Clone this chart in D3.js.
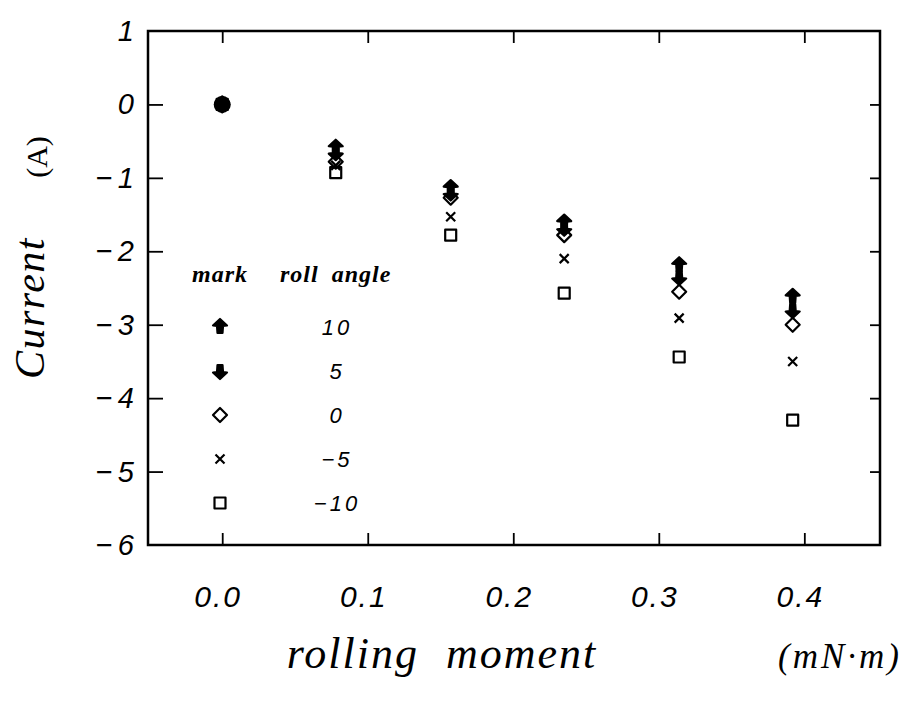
<!DOCTYPE html>
<html>
<head>
<meta charset="utf-8">
<script src="https://cdn.jsdelivr.net/npm/d3@7"></script>
<style>
  body { margin: 0; background: #fff; }
</style>
</head>
<body>
<div id="graph"></div>
<script>
// data
let moment = [0, 0.078, 0.157, 0.235, 0.314, 0.392];
let roll10 = [0, -0.59, -1.14, -1.61, -2.19, -2.62];
let roll5 = [0, -0.65, -1.2, -1.68, -2.35, -2.8];
let roll0 = [0, -0.78, -1.27, -1.78, -2.55, -3.0];
let rollM5 = [0, -0.83, -1.53, -2.1, -2.91, -3.5];
let rollM10 = [0, -0.93, -1.78, -2.57, -3.44, -4.3];
let originX = [0];
let originY = [0];

let angleNames = ["10", "5", "0", "\u22125", "\u221210"];
let xTicks = [0, 0.1, 0.2, 0.3, 0.4];
let yTicks = [1, 0, -1, -2, -3, -4, -5, -6];

let w = 912;
let h = 706;
let plotL = 148, plotR = 880, plotT = 31, plotB = 545;

let svg = d3.select("#graph").append("svg")
              .attr("width", w)
              .attr("height", h);

let x = d3.scaleLinear().domain([-0.051, 0.452]).range([plotL, plotR]);
let y = d3.scaleLinear().domain([-6, 1]).range([plotB, plotT]);

// marker shapes, one per roll angle
let upArrow = "M0,-8 L7,-1.5 L3,-1 L2.5,6 L-2.5,6 L-3,-1 L-7,-1.5 Z";
let downArrow = "M0,8 L7,1.5 L3,1 L2.5,-6 L-2.5,-6 L-3,1 L-7,1.5 Z";
let diamond = "M0,-7 L7,0 L0,7 L-7,0 Z";
let cross = "M-4.5,-4.5 L4.5,4.5 M-4.5,4.5 L4.5,-4.5";
let square = "M-5.5,-5.5 L5.5,-5.5 L5.5,5.5 L-5.5,5.5 Z";

let series = [
  {vals: roll10, d: upArrow, fill: "#000"},
  {vals: roll5, d: downArrow, fill: "#000"},
  {vals: roll0, d: diamond, fill: "none"},
  {vals: rollM5, d: cross, fill: "none"},
  {vals: rollM10, d: square, fill: "none"}
];

// frame
svg.append("rect")
    .attr("x", plotL).attr("y", plotT)
    .attr("width", plotR - plotL).attr("height", plotB - plotT)
    .attr("fill", "none").attr("stroke", "#000").attr("stroke-width", 2.5);

// ticks, all pointing inward
let xAxisB = d3.axisBottom(x).tickValues(xTicks).tickSize(-12).tickFormat("");
let xAxisT = d3.axisTop(x).tickValues(xTicks).tickSize(-12).tickFormat("");
let yAxisL = d3.axisLeft(y).tickValues(yTicks.slice(1, -1)).tickSize(-15).tickFormat("");
let yAxisR = d3.axisRight(y).tickValues(yTicks.slice(1, -1)).tickSize(-10).tickFormat("");

function cleanAxis(g) {
  g.select(".domain").remove();
  g.selectAll(".tick line").attr("stroke", "#000").attr("stroke-width", 1.8);
}

svg.append("g").attr("transform", "translate(0," + plotB + ")").call(xAxisB).call(cleanAxis);
svg.append("g").attr("transform", "translate(0," + plotT + ")").call(xAxisT).call(cleanAxis);
svg.append("g").attr("transform", "translate(" + plotL + ",0)").call(yAxisL).call(cleanAxis);
svg.append("g").attr("transform", "translate(" + plotR + ",0)").call(yAxisR).call(cleanAxis);

// tick labels
svg.selectAll(".xlab").data(xTicks).enter()
    .append("text")
      .attr("x", d => x(d) - 4)
      .attr("y", 607)
      .attr("text-anchor", "middle")
      .attr("font-family", "Liberation Sans")
      .attr("font-style", "italic")
      .attr("font-size", 30)
      .attr("letter-spacing", 2)
      .text(d => d.toFixed(1));

svg.selectAll(".ylab").data(yTicks).enter()
    .append("text")
      .attr("x", 134)
      .attr("y", d => y(d) + 10)
      .attr("text-anchor", "end")
      .attr("font-family", "Liberation Sans")
      .attr("font-style", "italic")
      .attr("font-size", 29)
      .text(d => d < 0 ? "\u2212\u2009" + Math.abs(d) : d);

// axis titles
svg.append("text")
    .attr("transform", "translate(44,308) rotate(-90)")
    .attr("text-anchor", "middle")
    .attr("font-family", "Liberation Serif")
    .attr("font-style", "italic")
    .attr("font-size", 42)
    .attr("letter-spacing", 1.5)
    .text("Current");

svg.append("text")
    .attr("transform", "translate(47,157) rotate(-90)")
    .attr("text-anchor", "middle")
    .attr("font-family", "Liberation Serif")
    .attr("font-size", 30)
    .text("(A)");

svg.append("text")
    .attr("x", 442)
    .attr("y", 668)
    .attr("text-anchor", "middle")
    .attr("font-family", "Liberation Serif")
    .attr("font-style", "italic")
    .attr("font-size", 44)
    .attr("letter-spacing", 2)
    .attr("word-spacing", 14)
    .text("rolling moment");

svg.append("text")
    .attr("x", 840)
    .attr("y", 668)
    .attr("text-anchor", "middle")
    .attr("font-family", "Liberation Serif")
    .attr("font-style", "italic")
    .attr("font-size", 35)
    .attr("letter-spacing", 3)
    .text("(mN\u00b7m)");

// data markers
series.forEach(function(s) {
  svg.selectAll(null).data(moment).enter()
      .append("path")
        .attr("transform", (d, i) => "translate(" + x(d) + "," + y(s.vals[i]) + ")")
        .attr("d", s.d)
        .attr("fill", s.fill)
        .attr("stroke", "#000")
        .attr("stroke-width", 2.2)
        .attr("stroke-linejoin", "round");
});

svg.selectAll(".origin").data(originX).enter()
    .append("circle")
      .attr("cx", d => x(d))
      .attr("cy", (d, i) => y(originY[i]))
      .attr("r", 8.5)
      .attr("fill", "#000");

// legend
let legendY = d3.scaleLinear().domain([0, 4]).range([327, 503]);

svg.append("text")
    .attr("x", 192).attr("y", 282)
    .attr("font-family", "Liberation Serif")
    .attr("font-style", "italic").attr("font-weight", "bold")
    .attr("font-size", 24)
    .attr("letter-spacing", 1)
    .text("mark");

svg.append("text")
    .attr("x", 280).attr("y", 282)
    .attr("font-family", "Liberation Serif")
    .attr("font-style", "italic").attr("font-weight", "bold")
    .attr("font-size", 24)
    .attr("letter-spacing", 1)
    .attr("word-spacing", 6)
    .text("roll angle");

series.forEach(function(s, i) {
  svg.append("path")
      .attr("transform", "translate(220," + legendY(i) + ")")
      .attr("d", s.d)
      .attr("fill", s.fill)
      .attr("stroke", "#000")
      .attr("stroke-width", 2.2)
      .attr("stroke-linejoin", "round");
});

svg.selectAll(".leglab").data(angleNames).enter()
    .append("text")
      .attr("x", 337)
      .attr("y", (d, i) => legendY(i) + 8)
      .attr("text-anchor", "middle")
      .attr("font-family", "Liberation Sans")
      .attr("font-style", "italic")
      .attr("font-size", 22)
      .attr("letter-spacing", 3)
      .text(d => d);
</script>
</body>
</html>
